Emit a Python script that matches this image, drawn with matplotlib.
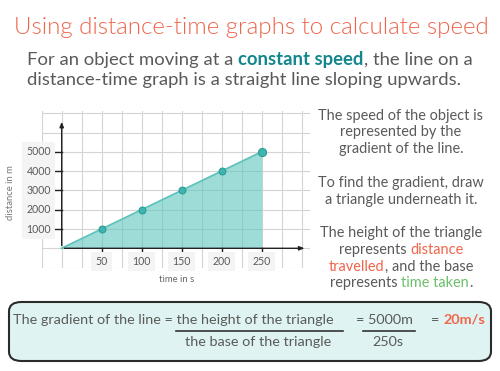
import matplotlib.pyplot as plt
from matplotlib.patches import FancyBboxPatch

# data
times = [0, 50, 100, 150, 200, 250]
distances = [0, 1000, 2000, 3000, 4000, 5000]
x_ticks = [50, 100, 150, 200, 250]
y_ticks = [1000, 2000, 3000, 4000, 5000]

TITLE = "Using distance-time graphs to calculate speed"
CORAL = "#f0654b"
TEXT = "#5a5a5a"
TEAL = "#13878b"
GREEN = "#6cbf6a"

plt.rcParams["font.family"] = ["Lato", "DejaVu Sans"]
LIGHT = 300
REG = "normal"

W, H = 500, 371
fig = plt.figure(figsize=(5, 3.71), dpi=100)
fig.patch.set_facecolor("white")


def px(x, y):
    """pixel coords (from top-left) -> figure fraction"""
    return x / W, 1 - y / H


def segments(x, y, parts, size, ha="center"):
    """draw a line made of coloured pieces; parts = [(text, colour, weight)]"""
    r = fig.canvas.get_renderer()
    widths = []
    for txt, col, wt in parts:
        t = fig.text(0, 0, txt.replace(" ", "\u00a0"), fontsize=size, fontweight=wt)
        widths.append(t.get_window_extent(r).width)
        t.remove()
    total = sum(widths)
    start = x - total / 2 if ha == "center" else x
    for (txt, col, wt), w in zip(parts, widths):
        fig.text(*px(start, y), txt.replace(" ", "\u00a0"), fontsize=size,
                 fontweight=wt, color=col, va="center", ha="left")
        start += w


fig.text(*px(251.5, 27), TITLE, fontsize=17.4, color=CORAL, fontweight=LIGHT, ha="center", va="center")
segments(27, 60, [("For an object moving at a ", TEXT, REG),
                  ("constant speed", TEAL, "bold"),
                  (", the line on a", TEXT, REG)], 13.3, ha="left")
segments(27, 80, [("distance-time graph is a straight line sloping upwards.", TEXT, REG)],
         13.3, ha="left")

# chart
x0, x1 = -25, 310
y0, y1 = -1000, 7100
ax = fig.add_axes([41.7 / W, 1 - 267.6 / H, (0.8 * (x1 - x0)) / W, (19.3 * (y1 - y0) / 1000) / H])
ax.set_xlim(x0, x1)
ax.set_ylim(y0, y1)
ax.axis("off")
for gx in range(-25, 301, 25):
    ax.axvline(gx, color="#d4d4d4", lw=0.8, zorder=0)
for gy in range(-1000, 7001, 1000):
    ax.axhline(gy, color="#d4d4d4", lw=0.8, zorder=0)

ax.fill_between(times, distances, color="#5cc6bd", alpha=0.6, zorder=2, lw=0)
ax.plot(times, distances, color="#5cc2bb", lw=1.3, zorder=3)
ax.scatter(times[1:-1], distances[1:-1], s=24, color="#40b4ae", edgecolor="#2a9c97", lw=0.8, zorder=4)
ax.scatter(times[-1:], distances[-1:], s=34, color="#40b4ae", edgecolor="#2a9c97", lw=0.8, zorder=4)

ax.annotate("", xy=(0, 6700), xytext=(0, 0),
            arrowprops=dict(arrowstyle="-|>,head_length=0.3,head_width=0.12", color="#222222", lw=1.0), zorder=5)
ax.annotate("", xy=(307, 0), xytext=(0, 0),
            arrowprops=dict(arrowstyle="-|>,head_length=0.3,head_width=0.12", color="#222222", lw=1.0), zorder=5)

# tick marks
for v in y_ticks:
    ax.plot([-8.5, 0], [v, v], color="#222222", lw=1.0, zorder=5)
for v in x_ticks:
    ax.plot([v, v], [0, -230], color="#222222", lw=1.0, zorder=5)

box = dict(boxstyle="square,pad=0.4", facecolor="#f4f4f4", edgecolor="none")
for v in y_ticks:
    ax.text(-13.5, v, str(v), fontsize=7.6, color=TEXT, ha="right", va="center", bbox=box, zorder=6)
for v in x_ticks:
    ax.text(v, -690, str(v), fontsize=7.6, color=TEXT, ha="center", va="center", bbox=box, zorder=6)

fig.text(*px(11, 193), "distance in m", fontsize=6.8, color="#777777", rotation=90, ha="center", va="center")
fig.text(*px(177, 279), "time in s", fontsize=6.8, color="#666666", ha="center", va="center")

# right hand explanation
cx = 401
size = 10.45
segments(cx, 115.7, [("The speed of the object is", TEXT, REG)], size)
segments(cx, 132.3, [("represented by the", TEXT, REG)], size)
segments(cx, 149, [("gradient of the line.", TEXT, REG)], size)
segments(cx, 183.3, [("To find the gradient, draw", TEXT, REG)], size)
segments(cx, 200, [("a triangle underneath it.", TEXT, REG)], size)
segments(cx, 233.3, [("The height of the triangle", TEXT, REG)], size)
segments(cx, 250, [("represents ", TEXT, REG), ("distance", CORAL, REG)], size)
segments(cx, 266.7, [("travelled", CORAL, REG), (", and the base", TEXT, REG)], size)
segments(cx, 283.3, [("represents ", TEXT, REG), ("time taken", GREEN, REG),
                     (".", TEXT, REG)], size)

# formula box
bx0, by0 = px(9, 361)
bx1, by1 = px(491, 302)
fig.patches.append(FancyBboxPatch((bx0, by0), bx1 - bx0, by1 - by0,
                                  boxstyle="round,pad=0,rounding_size=0.025",
                                  transform=fig.transFigure, facecolor="#dff4f2",
                                  edgecolor="#2b2b2b", lw=1.5))
fsize = 10.4
fig.text(*px(13, 320), "The gradient of the line = the height of the triangle", fontsize=fsize,
         color=TEXT, fontweight=REG, ha="left", va="center")
fig.text(*px(258, 342), "the base of the triangle", fontsize=fsize, color=TEXT, fontweight=REG,
         ha="center", va="center")
fig.text(*px(356, 320), "= 5000m", fontsize=fsize, color=TEXT, fontweight=REG, ha="left", va="center")
fig.text(*px(388, 342), "250s", fontsize=fsize, color=TEXT, fontweight=REG, ha="center", va="center")
fig.text(*px(431, 320), "= ", fontsize=fsize, color=TEXT, fontweight=REG, ha="left", va="center")
fig.text(*px(443, 320), "20m/s", fontsize=fsize, color=CORAL, fontweight="bold", ha="left", va="center")
fig.add_artist(plt.Line2D([176 / W, 343 / W], [1 - 330.7 / H] * 2, color="#333333", lw=1.2))
fig.add_artist(plt.Line2D([363 / W, 415 / W], [1 - 330.7 / H] * 2, color="#333333", lw=1.2))

fig.savefig("out.png", dpi=100)
